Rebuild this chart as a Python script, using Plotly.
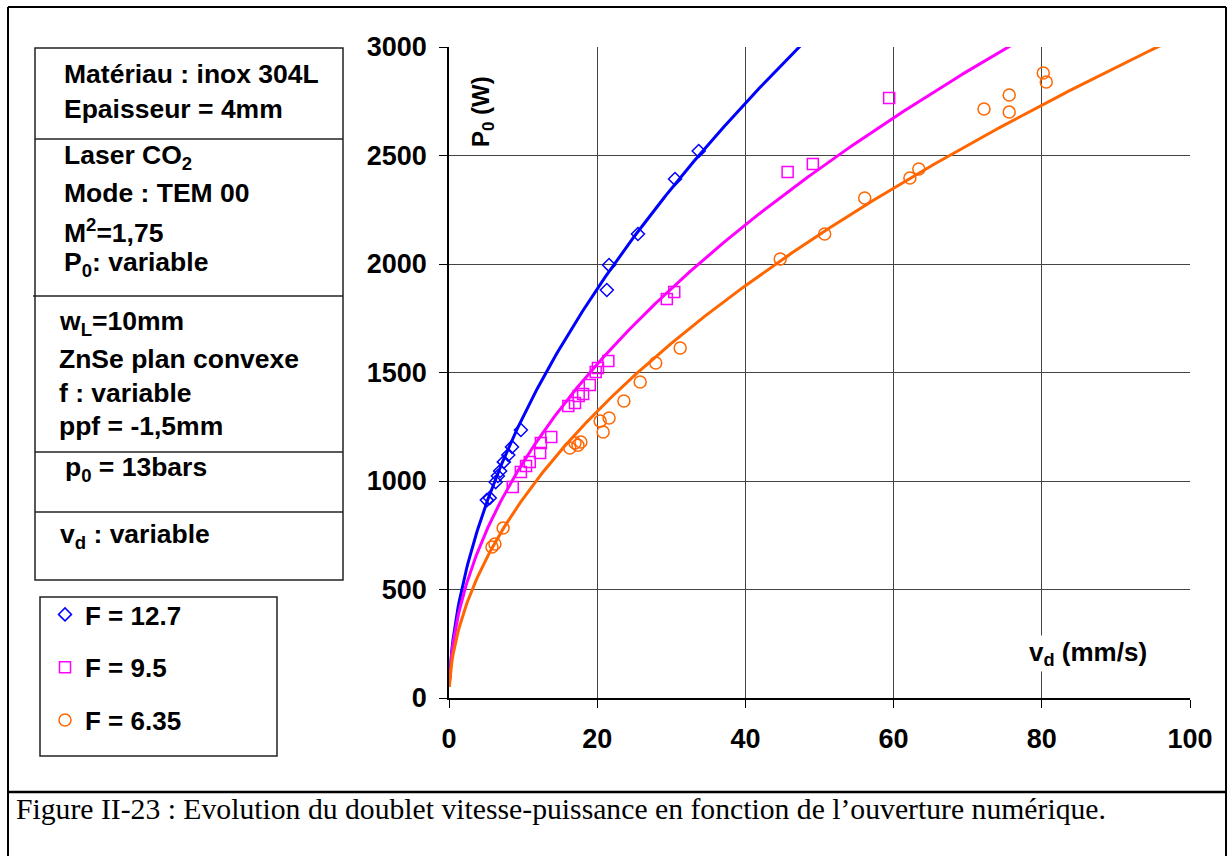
import numpy as np
import plotly.graph_objects as go

# ---- données ----
v_127 = [5.1, 5.5, 6.3, 6.6, 6.9, 7.4, 8.0, 8.5, 9.7, 21.3, 21.6, 25.5, 30.5, 33.7]
p_127 = [912, 922, 995, 1023, 1046, 1088, 1120, 1157, 1235, 1880, 1995, 2138, 2392, 2521]

v_95 = [8.6, 9.7, 10.4, 10.9, 12.3, 12.4, 13.8, 16.1, 17.0, 17.5, 18.1, 19.0, 19.8, 20.1,
        21.5, 29.4, 30.4, 45.7, 49.1, 59.4]
p_95 = [972, 1041, 1069, 1088, 1129, 1175, 1203, 1346, 1359, 1392, 1401, 1442, 1502, 1521,
        1553, 1839, 1871, 2424, 2461, 2765]

v_635 = [5.8, 6.2, 7.3, 16.3, 17.0, 17.4, 17.8, 20.4, 20.8, 21.6, 23.6, 25.8, 27.9, 31.2,
         44.7, 50.7, 56.1, 62.2, 63.4, 72.2, 75.6, 75.6, 80.2, 80.6]
p_635 = [696, 710, 783, 1152, 1175, 1165, 1180, 1276, 1226, 1290, 1369, 1456, 1544, 1613,
         2023, 2138, 2304, 2396, 2438, 2714, 2779, 2700, 2880, 2839]

# courbes de tendance puissance P = a * v^b (estimées sur la figure)
trend_a = [374, 341, 275]
trend_b = [0.54, 0.503, 0.524]

series = [
    ("F = 12.7", v_127, p_127, "#0000FF", "diamond-open", 10),
    ("F = 9.5", v_95, p_95, "#FF00FF", "square-open", 11),
    ("F = 6.35", v_635, p_635, "#FF6600", "circle-open", 12),
]

x_ticks = [0, 20, 40, 60, 80, 100]
y_ticks = [0, 500, 1000, 1500, 2000, 2500, 3000]

info_lines = [
    ("Matériau : inox 304L", 62, 74),
    ("Epaisseur = 4mm", 62, 109),
    ("Laser CO<sub>2</sub>", 62, 157),
    ("Mode : TEM 00", 62, 193),
    ("M<sup>2</sup>=1,75", 62, 231),
    ("P<sub>0</sub>: variable", 62, 264),
    ("w<sub>L</sub>=10mm", 57, 323),
    ("ZnSe plan convexe", 57, 359),
    ("f : variable", 57, 393),
    ("ppf = -1,5mm", 57, 426),
    ("p<sub>0</sub> = 13bars", 63, 469),
    ("v<sub>d</sub> : variable", 58, 536),
]

caption = "Figure II-23 : Evolution du doublet vitesse-puissance en fonction de l’ouverture numérique."

# zone de tracé en pixels
L, R, T, B = 449, 1190, 47, 698
W, H = 1232, 856


def px(x):
    return (x - L) / (R - L)


def py(y):
    return (B - y) / (B - T)


fig = go.Figure()

x_fit = np.linspace(0.04, 100, 600)
for (name, v, p, col, sym, sz), a, b in zip(series, trend_a, trend_b):
    fig.add_trace(go.Scatter(x=x_fit, y=a * x_fit ** b, mode="lines",
                             line=dict(color=col, width=3), showlegend=False,
                             hoverinfo="skip"))
for i, (name, v, p, col, sym, sz) in enumerate(series):
    fig.add_trace(go.Scatter(x=v, y=p, mode="markers", name=name, legendgroup=str(i),
                             marker=dict(symbol=sym, size=sz, color=col,
                                         line=dict(color=col, width=1.5))))

bold = dict(family="Liberation Sans, Arial", size=27, color="black", weight="bold")

fig.update_xaxes(range=[0, 100], tickvals=x_ticks, tickfont=bold, ticks="outside",
                 ticklen=8, tickcolor="black", ticklabelstandoff=8,
                 showgrid=True, gridcolor="#444", gridwidth=1,
                 showline=True, linecolor="black", linewidth=1.5, zeroline=False)
fig.update_yaxes(range=[0, 3000], tickvals=y_ticks, tickfont=bold, ticks="outside",
                 ticklen=8, tickcolor="black", ticklabelstandoff=7,
                 showgrid=True, gridcolor="#444", gridwidth=1,
                 showline=True, linecolor="black", linewidth=1.5, zeroline=False)

shapes = []
# cadre extérieur et séparation de la légende
for x0, y0, x1, y1, w in [(8, 7, 8, 870, 2), (8, 7, 1226, 7, 2), (1226, 7, 1226, 870, 2),
                          (8, 792, 1226, 792, 2.5)]:
    shapes.append(dict(type="line", xref="paper", yref="paper", x0=px(x0), y0=py(y0),
                       x1=px(x1), y1=py(y1), line=dict(color="black", width=w)))
# boîte des conditions
shapes.append(dict(type="rect", xref="paper", yref="paper", x0=px(35), y0=py(48),
                   x1=px(343), y1=py(580), line=dict(color="#222", width=1.5)))
for yy, x0 in [(139, 35), (296, 33), (452, 35), (512, 35)]:
    shapes.append(dict(type="line", xref="paper", yref="paper", x0=px(x0), y0=py(yy),
                       x1=px(343), y1=py(yy), line=dict(color="#222", width=1.5)))
# boîte de la légende
shapes.append(dict(type="rect", xref="paper", yref="paper", x0=px(40), y0=py(597),
                   x1=px(277), y1=py(756), line=dict(color="#222", width=1.5)))

annotations = []
for txt, xx, yy in info_lines:
    annotations.append(dict(text=txt, xref="paper", yref="paper", x=px(xx), y=py(yy),
                            xanchor="left", yanchor="middle", showarrow=False,
                            font=dict(family="Liberation Sans, Arial", size=26.5,
                                      color="black", weight="bold")))
annotations.append(dict(text="P<sub>0</sub> (W)", xref="paper", yref="paper",
                        x=px(483), y=py(112), xanchor="center", yanchor="middle",
                        textangle=-90, showarrow=False, bgcolor="white",
                        font=dict(family="Liberation Sans, Arial", size=24,
                                  color="black", weight="bold")))
annotations.append(dict(text="v<sub>d</sub> (mm/s)", xref="paper", yref="paper",
                        x=px(1088), y=py(653), xanchor="center", yanchor="middle",
                        showarrow=False, bgcolor="white",
                        font=dict(family="Liberation Sans, Arial", size=26,
                                  color="black", weight="bold")))
annotations.append(dict(text=caption, xref="paper", yref="paper", x=px(14), y=py(809),
                        xanchor="left", yanchor="middle", showarrow=False,
                        font=dict(family="Liberation Serif, Times New Roman", size=29.7,
                                  color="black")))

fig.update_layout(
    width=W, height=H,
    margin=dict(l=L, r=W - R, t=T, b=H - B),
    plot_bgcolor="white", paper_bgcolor="white",
    shapes=shapes, annotations=annotations,
    legend=dict(x=px(45), y=py(591), xanchor="left", yanchor="top",
                bgcolor="rgba(0,0,0,0)", tracegroupgap=16,
                font=dict(family="Liberation Sans, Arial", size=26, color="black",
                          weight="bold")),
)

fig.write_html("out.html", config={"displayModeBar": False},
               post_script="document.body.style.margin='0px';")
